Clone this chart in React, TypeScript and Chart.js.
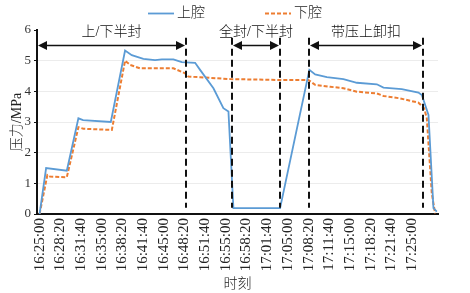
import React, { useEffect, useRef } from "react";
import { Chart, registerables } from "chart.js";

Chart.register(...registerables);

// ---- data ----
const tickLabels = [
  "16:25:00", "16:28:20", "16:31:40", "16:35:00", "16:38:20", "16:41:40", "16:45:00",
  "16:48:20", "16:51:40", "16:55:00", "16:58:20", "17:01:40", "17:05:00", "17:08:20",
  "17:11:40", "17:15:00", "17:18:20", "17:21:40", "17:25:00",
];

const upperTimes = [
  "16:25:00", "16:26:03", "16:29:23", "16:31:15", "16:32:00", "16:36:28", "16:38:46",
  "16:39:51", "16:41:43", "16:43:36", "16:44:41", "16:46:33", "16:47:54", "16:50:03",
  "16:50:51", "16:53:00", "16:54:36", "16:55:25", "16:56:13", "17:03:44", "17:08:27",
  "17:09:23", "17:11:16", "17:13:56", "17:16:06", "17:19:19", "17:20:23", "17:23:20",
  "17:26:01", "17:26:34", "17:27:38", "17:28:26", "17:28:59",
];
const upperValues = [
  0, 1.5, 1.41, 3.12, 3.06, 3.0, 5.33,
  5.18, 5.06, 5.02, 5.04, 5.04, 4.95, 4.93,
  4.7, 4.1, 3.45, 3.34, 0.19, 0.19, 4.7,
  4.55, 4.46, 4.4, 4.28, 4.23, 4.12, 4.07,
  3.96, 3.88, 3.23, 0.19, 0.08,
];

const lowerTimes = [
  "16:25:00", "16:26:15", "16:26:41", "16:29:23", "16:31:15", "16:32:03", "16:36:38",
  "16:38:46", "16:39:35", "16:41:11", "16:46:33", "16:48:26", "16:48:58", "16:50:51",
  "16:55:41", "17:03:44", "17:08:18", "17:09:23", "17:11:48", "17:13:56", "17:16:06",
  "17:19:19", "17:20:23", "17:23:04", "17:26:01", "17:26:56", "17:27:22", "17:28:10",
  "17:28:42",
];
const lowerValues = [
  0, 1.27, 1.22, 1.2, 2.83, 2.78, 2.74,
  5.0, 4.86, 4.75, 4.75, 4.59, 4.48, 4.46,
  4.4, 4.37, 4.37, 4.21, 4.15, 4.1, 3.99,
  3.93, 3.85, 3.77, 3.63, 3.45, 3.12, 0.67,
  0.02,
];

const seriesNames = ["上腔", "下腔"];
const boundaryTimes = ["16:48:33", "16:56:04", "17:03:44", "17:08:27", "17:26:49"];
const phaseLabels = ["上/下半封", "全封/下半封", "带压上卸扣"];
// each phase spans boundary index [from, to]; -1 = left edge of plot
const phaseFrom = [-1, 1, 3];
const phaseTo = [0, 2, 4];

// ---- helpers ----
const START = "16:25:00";
function toSec(t: string): number {
  const p = (s: string) => s.split(":").map(Number);
  const [h, m, s] = p(t);
  const [h0, m0, s0] = p(START);
  return h * 3600 + m * 60 + s - (h0 * 3600 + m0 * 60 + s0);
}

const LATIN = "'Liberation Serif', 'Times New Roman', Times, serif";
const MIXED = "'Liberation Serif', 'Times New Roman', 'Noto Sans CJK SC', serif";
const BLUE = "#5B9BD5";
const ORANGE = "#ED7D31";

const annotPlugin = {
  id: "phaseAnnot",
  afterDatasetsDraw(chart: any) {
    const { ctx, chartArea, scales } = chart;
    const x = scales.x;
    const y = scales.y;
    ctx.save();
    ctx.strokeStyle = "#111";
    ctx.lineWidth = 2;
    ctx.setLineDash([7, 4]);
    const bx = boundaryTimes.map((t) => Math.round(x.getPixelForValue(toSec(t))));
    bx.forEach((px) => {
      ctx.beginPath();
      ctx.moveTo(px, y.getPixelForValue(5.75));
      ctx.lineTo(px, y.getPixelForValue(0.2));
      ctx.stroke();
    });
    ctx.setLineDash([]);
    const ay = Math.round(y.getPixelForValue(5.5)) + 0.5;
    const ty = y.getPixelForValue(5.93);
    ctx.fillStyle = "#111";
    ctx.lineWidth = 1.5;
    phaseLabels.forEach((label, i) => {
      const x1 = phaseFrom[i] < 0 ? chartArea.left : bx[phaseFrom[i]];
      const x2 = bx[phaseTo[i]];
      const hl = 9;
      const hh = 4.5;
      ctx.beginPath();
      ctx.moveTo(x1 + hl - 1, ay);
      ctx.lineTo(x2 - hl + 1, ay);
      ctx.stroke();
      ctx.beginPath();
      ctx.moveTo(x1 + 1, ay);
      ctx.lineTo(x1 + hl + 1, ay - hh);
      ctx.lineTo(x1 + hl + 1, ay + hh);
      ctx.closePath();
      ctx.fill();
      ctx.beginPath();
      ctx.moveTo(x2 - 1, ay);
      ctx.lineTo(x2 - hl - 1, ay - hh);
      ctx.lineTo(x2 - hl - 1, ay + hh);
      ctx.closePath();
      ctx.fill();
      ctx.font = `300 14px ${MIXED}`;
      ctx.textAlign = "center";
      ctx.textBaseline = "middle";
      ctx.fillStyle = "#111";
      ctx.fillText(label, (x1 + x2) / 2, ty);
    });
    ctx.restore();
  },
  afterDraw(chart: any) {
    const { ctx, width } = chart;
    ctx.save();
    ctx.font = `300 14px ${MIXED}`;
    ctx.textBaseline = "middle";
    ctx.textAlign = "left";
    const lineLen = 26;
    const gapText = 3;
    const gapItem = 60;
    const widths = seriesNames.map((n) => lineLen + gapText + ctx.measureText(n).width);
    const total = widths[0] + gapItem + widths[1];
    let sx = width / 2 - total / 2;
    const ly = 13.5;
    seriesNames.forEach((n, i) => {
      ctx.strokeStyle = i === 0 ? BLUE : ORANGE;
      ctx.lineWidth = i === 0 ? 1.8 : 2;
      ctx.setLineDash(i === 0 ? [] : [4, 2]);
      ctx.beginPath();
      ctx.moveTo(sx, ly);
      ctx.lineTo(sx + lineLen, ly);
      ctx.stroke();
      ctx.setLineDash([]);
      ctx.fillStyle = "#222";
      ctx.fillText(n, sx + lineLen + gapText, ly);
      sx += widths[i] + gapItem;
    });
    ctx.restore();
  },
};

export default function App() {
  const ref = useRef<HTMLCanvasElement | null>(null);
  useEffect(() => {
    if (!ref.current) return;
    const chart = new Chart(ref.current, {
      type: "line",
      data: {
        datasets: [
          {
            label: seriesNames[0],
            data: upperTimes.map((t, i) => ({ x: toSec(t), y: upperValues[i] })),
            borderColor: BLUE,
            borderWidth: 1.8,
            pointRadius: 0,
            tension: 0,
          },
          {
            label: seriesNames[1],
            data: lowerTimes.map((t, i) => ({ x: toSec(t), y: lowerValues[i] })),
            borderColor: ORANGE,
            borderWidth: 2,
            borderDash: [4, 2],
            pointRadius: 0,
            tension: 0,
          },
        ],
      },
      options: {
        animation: false,
        responsive: false,
        layout: { padding: { top: 30, right: 32, left: 0, bottom: 0 } },
        plugins: { legend: { display: false }, tooltip: { enabled: false } },
        scales: {
          x: {
            type: "linear",
            min: -25,
            max: 3850,
            afterFit: (s: any) => { s.height = 79; },
            afterBuildTicks: (s: any) => {
              s.ticks = tickLabels.map((_, i) => ({ value: i * 200 }));
            },
            ticks: {
              minRotation: 90,
              maxRotation: 90,
              autoSkip: false,
              padding: 4,
              color: "#222",
              font: { family: LATIN, size: 15 },
              callback: (v: any) => tickLabels[Math.round(Number(v) / 200)] ?? "",
            },
            grid: { display: false, drawTicks: false },
            border: { color: "#111", width: 2 },
            title: {
              display: true,
              text: "时刻",
              color: "#222",
              font: { family: MIXED, size: 14, weight: "300" as any },
              padding: { top: 2.6, bottom: 0 },
            },
          },
          y: {
            min: 0,
            max: 6,
            afterFit: (s: any) => { s.width = 37; },
            ticks: {
              stepSize: 1,
              padding: 3,
              color: "#333",
              font: { family: LATIN, size: 13 },
            },
            grid: {
              drawTicks: true,
              tickLength: 3,
              tickColor: "#111",
              tickWidth: 1,
              color: (c: any) => (c.tick && (c.tick.value === 0 || c.tick.value === 6) ? "rgba(0,0,0,0)" : "#ececec"),
              lineWidth: 1,
            },
            border: { color: "#111", width: 2 },
            title: {
              display: true,
              text: "压力/MPa",
              color: "#222",
              font: { family: MIXED, size: 14, weight: "300" as any },
              padding: { top: 8.6, bottom: 0 },
            },
          },
        },
      },
      plugins: [annotPlugin],
    } as any);
    return () => chart.destroy();
  }, []);
  return (
    <div style={{ position: "fixed", left: 0, top: 0, width: 470, height: 293, background: "#fff" }}>
      <canvas ref={ref} width={470} height={293} />
    </div>
  );
}
